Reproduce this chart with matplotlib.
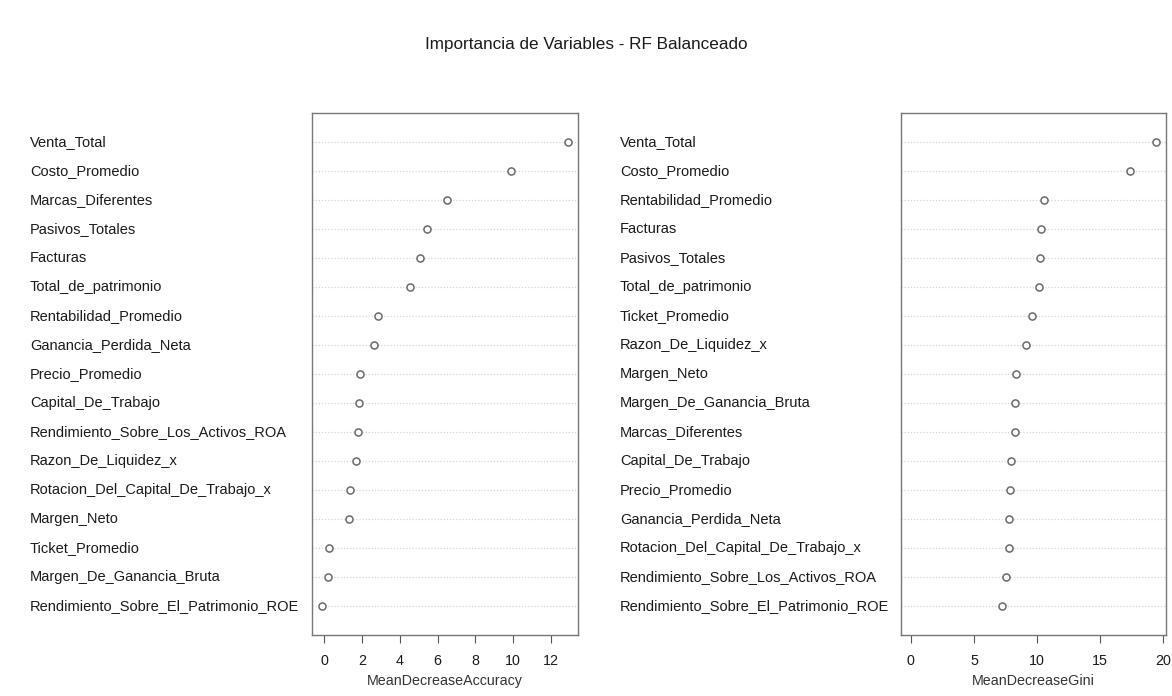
import matplotlib
matplotlib.use("Agg")
import matplotlib.pyplot as plt
import matplotlib.transforms as mtransforms

plt.rcParams['font.family'] = ['Liberation Sans', 'DejaVu Sans']

# Left panel: MeanDecreaseAccuracy (top to bottom)
acc_vars = ["Venta_Total", "Costo_Promedio", "Marcas_Diferentes", "Pasivos_Totales",
            "Facturas", "Total_de_patrimonio", "Rentabilidad_Promedio",
            "Ganancia_Perdida_Neta", "Precio_Promedio", "Capital_De_Trabajo",
            "Rendimiento_Sobre_Los_Activos_ROA", "Razon_De_Liquidez_x",
            "Rotacion_Del_Capital_De_Trabajo_x", "Margen_Neto", "Ticket_Promedio",
            "Margen_De_Ganancia_Bruta", "Rendimiento_Sobre_El_Patrimonio_ROE"]
acc_vals = [12.9, 9.9, 6.49, 5.43, 5.08, 4.53, 2.84, 2.63, 1.90, 1.83, 1.80,
            1.66, 1.36, 1.32, 0.28, 0.21, -0.12]

# Right panel: MeanDecreaseGini (top to bottom)
gini_vars = ["Venta_Total", "Costo_Promedio", "Rentabilidad_Promedio", "Facturas",
             "Pasivos_Totales", "Total_de_patrimonio", "Ticket_Promedio",
             "Razon_De_Liquidez_x", "Margen_Neto", "Margen_De_Ganancia_Bruta",
             "Marcas_Diferentes", "Capital_De_Trabajo", "Precio_Promedio",
             "Ganancia_Perdida_Neta", "Rotacion_Del_Capital_De_Trabajo_x",
             "Rendimiento_Sobre_Los_Activos_ROA", "Rendimiento_Sobre_El_Patrimonio_ROE"]
gini_vals = [19.43, 17.32, 10.54, 10.33, 10.22, 10.12, 9.59, 9.09, 8.33, 8.28,
             8.22, 7.96, 7.85, 7.80, 7.74, 7.56, 7.21]

acc_ticks = [0, 2, 4, 6, 8, 10, 12]
gini_ticks = [0, 5, 10, 15, 20]

W, H = 1172, 696
fig = plt.figure(figsize=(W / 100, H / 100), dpi=100)

fig.text(0.5, 1 - 45 / H, "Importancia de Variables - RF Balanceado",
         ha='center', va='center', fontsize=12.3, color='#1a1a1a')


def make(ax_left_px, ax_right_px, label_x_px, names, vals, xmin, ticks, xlabel):
    ax = fig.add_axes([ax_left_px / W, 1 - 635 / H,
                       (ax_right_px - ax_left_px) / W, (635 - 113) / H])
    n = len(names)
    ys = list(range(n, 0, -1))
    xmax = max(vals)
    lo = min(xmin, min(vals))
    pad = 0.04 * (xmax - lo)
    ax.set_xlim(lo - pad, xmax + pad)
    ax.set_ylim(0, n + 1)
    for y in ys:
        ax.axhline(y, color='#d6d6d6', lw=0.9, ls=(0, (1, 1.5)), zorder=1)
    ax.scatter(vals, ys, s=26, facecolors='white', edgecolors='#6a6a6a',
               linewidths=1.1, zorder=3)
    ax.set_yticks([])
    ax.set_xticks(ticks)
    ax.set_xticklabels([str(t) for t in ticks], fontsize=10.3, color='#1a1a1a')
    ax.tick_params(axis='x', length=6, width=0.8, color='#555555', pad=8)
    ax.set_xlabel(xlabel, fontsize=10.3, color='#333333', labelpad=4)
    for sp in ax.spines.values():
        sp.set_color('#777777')
        sp.set_linewidth(1.0)
    trans = mtransforms.blended_transform_factory(fig.transFigure, ax.transData)
    for name, y in zip(names, ys):
        ax.text(label_x_px / W, y, name, transform=trans, ha='left',
                va='center', fontsize=10.5, color='#1a1a1a', clip_on=False)
    return ax


make(312, 578, 30, acc_vars, acc_vals, min(acc_vals), acc_ticks, "MeanDecreaseAccuracy")
make(901, 1166, 620, gini_vars, gini_vals, 0, gini_ticks, "MeanDecreaseGini")

fig.savefig("out.png", dpi=100, facecolor='white')
